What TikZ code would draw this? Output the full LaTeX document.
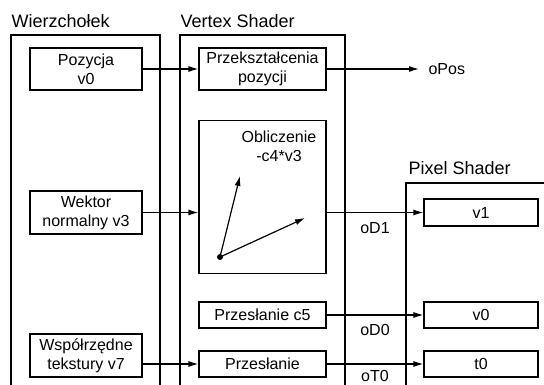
\documentclass[tikz,border=0pt]{standalone}
\usepackage{fontspec}
\setmainfont{Liberation Sans}
\usetikzlibrary{arrows.meta}

\begin{document}
\begin{tikzpicture}[x=1pt,y=-1pt,line width=1.2pt,
    blok/.style={draw,inner sep=0pt,align=center,font=\fontsize{16}{19}\selectfont},
    tytul/.style={anchor=west,inner sep=0pt,font=\fontsize{18}{21}\selectfont},
    opis/.style={inner sep=0pt,font=\fontsize{16}{19}\selectfont},
    strz/.style={-{Latex[length=10pt,width=6pt]}}]
					\useasboundingbox (0,0) rectangle (544,385);
					\clip (0,0) rectangle (544,385);
					% kontenery
					\draw (11,395) -- (11,35) -- (160,35) -- (160,395);
					\draw (180,395) -- (180,35) -- (345,35) -- (345,395);
					\draw (406,395) -- (406,183) -- (560,183);
					\node[tytul] (tw) at (11,21) {Wierzchołek};
					\node[tytul] (tv) at (180,21) {Vertex Shader};
					\node[tytul] (tp) at (408,168.5) {Pixel Shader};
					% wierzcholek
					\node[blok,minimum width=112pt,minimum height=42pt] (poz) at (86,69) {Pozycja\\v0};
					\node[blok,minimum width=112pt,minimum height=43pt] (wek) at (86,212.5) {Wektor\\normalny v3};
					\node[blok,minimum width=112pt,minimum height=43pt] (wsp) at (86,355.5) {Współrzędne\\tekstury v7};
					% vertex shader
					\node[blok,minimum width=127pt,minimum height=42pt] (prz) at (262.5,69) {Przekształcenia\\pozycji};
					\node[blok,minimum width=127pt,minimum height=153pt] (obl) at (262.5,197) {};
					\node[opis,align=center] (oblt) at (279,146) {Obliczenie\\-c4*v3};
					\node[blok,minimum width=127pt,minimum height=26pt] (pc5) at (262.5,315) {Przesłanie c5};
					\node[blok,minimum width=127pt,minimum height=26pt] (pt) at (262.5,364) {Przesłanie};
					% pixel shader
					\node[blok,minimum width=114pt,minimum height=27pt] (v1) at (481,212.5) {v1};
					\node[blok,minimum width=114pt,minimum height=26pt] (v0) at (481,315) {v0};
					\node[blok,minimum width=114pt,minimum height=26pt] (t0) at (481,364) {t0};
					% wyjscia
					\node[opis,anchor=west,inner xsep=9pt] (opos) at (419,69) {oPos};
					\node[opis] (od1) at (375,228) {oD1};
					\node[opis] (od0) at (375,330) {oD0};
					\node[opis] (ot0) at (375,376) {oT0};
					% wektory
					\coordinate (p0) at (220,257);
					\coordinate (p1) at (240,176);
					\coordinate (p2) at (305,218);
					\fill (p0) circle (3);
					\draw[strz] (p0) -- (p1);
					\draw[strz] (p0) -- (p2);
					% polaczenia
					\draw[strz] (poz) -- (prz);
					\draw[strz] (prz) -- (opos);
					\draw[strz] (wek.east) -- (wek.east -| obl.west);
					\draw[strz] (v1.west -| obl.east) -- (v1.west);
					\draw[strz] (pc5) -- (v0);
					\draw[strz] (pt.west -| wsp.east) -- (pt.west);
					\draw[strz] (pt) -- (t0);
				\end{tikzpicture}
\end{document}
